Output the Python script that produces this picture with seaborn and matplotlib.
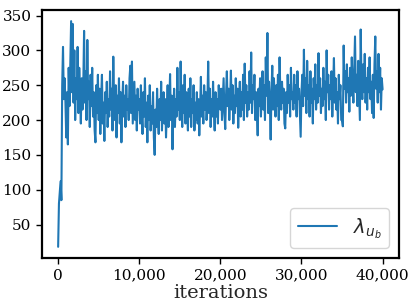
import numpy as np
import pandas as pd
import matplotlib
matplotlib.use('Agg')
import matplotlib.pyplot as plt
import seaborn as sns

# lambda_{u_b} values, one every 100 iterations
step = 100
seg0 = [18, 80, 95, 112, 85, 250, 305, 230, 260, 225, 175, 240, 165, 275, 220, 280, 342, 240, 338, 225,
        300, 200, 260, 230, 305, 210, 275, 240, 195, 260, 215, 250, 328, 225, 270, 200, 315, 230, 255, 190,
        265, 220, 275, 205, 240, 185, 168, 250, 210, 265]
seg1 = [200, 245, 180, 230, 265, 195, 225, 170, 240, 210, 255, 190, 230, 205, 270, 215, 245, 185, 291, 220,
        200, 250, 175, 235, 210, 260, 195, 240, 168, 225, 255, 205, 235, 190, 250, 215, 230, 200, 260, 278,
        210, 284, 195, 225, 255, 200, 235, 185, 245, 215]
seg2 = [230, 195, 250, 210, 180, 240, 205, 260, 190, 225, 168, 235, 200, 250, 185, 220, 195, 240, 175, 150,
        215, 190, 245, 205, 180, 230, 200, 255, 185, 220, 240, 195, 230, 175, 210, 250, 190, 225, 266, 200,
        235, 158, 215, 245, 190, 230, 205, 275, 215, 240]
seg3 = [200, 284, 220, 190, 250, 210, 265, 195, 240, 215, 185, 245, 205, 260, 190, 230, 210, 250, 185, 225,
        200, 240, 195, 230, 178, 215, 262, 205, 235, 195, 250, 215, 240, 200, 225, 284, 210, 245, 190, 230,
        205, 255, 215, 185, 240, 205, 230, 195, 250, 220]
seg4 = [215, 245, 200, 230, 260, 210, 187, 235, 270, 220, 245, 200, 230, 271, 215, 250, 195, 235, 210, 260,
        220, 245, 189, 230, 255, 205, 240, 215, 265, 200, 281, 225, 250, 205, 240, 215, 270, 225, 297, 210,
        250, 230, 265, 200, 240, 215, 178, 245, 220, 260]
seg5 = [205, 240, 270, 215, 250, 200, 290, 235, 325, 210, 255, 225, 172, 240, 278, 215, 260, 230, 205, 250,
        220, 265, 200, 290, 235, 215, 255, 225, 245, 195, 188, 240, 210, 265, 225, 250, 205, 275, 230, 240,
        215, 265, 225, 250, 205, 270, 230, 245, 210, 176]
seg6 = [240, 265, 220, 301, 235, 260, 210, 285, 230, 250, 205, 270, 225, 245, 195, 260, 230, 280, 215, 250,
        225, 296, 235, 260, 210, 245, 220, 275, 230, 255, 200, 300, 240, 265, 215, 250, 230, 270, 205, 245,
        289, 225, 260, 215, 240, 195, 265, 230, 250, 200]
seg7 = [200, 191, 307, 245, 270, 225, 280, 240, 260, 212, 275, 235, 290, 250, 225, 270, 320, 240, 265, 220,
        285, 245, 200, 330, 255, 230, 280, 240, 295, 225, 260, 215, 275, 240, 290, 230, 255, 210, 265, 203,
        280, 320, 245, 270, 225, 295, 240, 275, 215, 260, 244]

lam = seg0 + seg1 + seg2 + seg3 + seg4 + seg5 + seg6 + seg7
df = pd.DataFrame({'iterations': np.arange(len(lam)) * step, 'lam': lam})

sns.set_style('ticks')
plt.rcParams['font.family'] = ['DejaVu Serif']
plt.rcParams['mathtext.fontset'] = 'dejavusans'

fig = plt.figure(figsize=(4.15, 3.08), dpi=100)
ax = fig.add_axes([0.101, 0.162, 0.86, 0.806])
sns.lineplot(data=df, x='iterations', y='lam', ax=ax, color='#1f77b4', linewidth=1.5,
             label=r'$\lambda_{u_b}$')

ax.set_xticks([0, 10000, 20000, 30000, 40000])
ax.set_xticklabels(['0', '10,000', '20,000', '30,000', '40,000'])
ax.set_yticks([50, 100, 150, 200, 250, 300, 350])
ax.tick_params(labelsize=11, colors='black', length=4, width=1)
ax.set_xlabel('iterations', fontsize=14, labelpad=1)
ax.set_ylabel('')
for s in ax.spines.values():
    s.set_linewidth(1.6)
    s.set_color('black')

ax.legend(loc='lower right', fontsize=14)

fig.savefig('out.png', dpi=100)
